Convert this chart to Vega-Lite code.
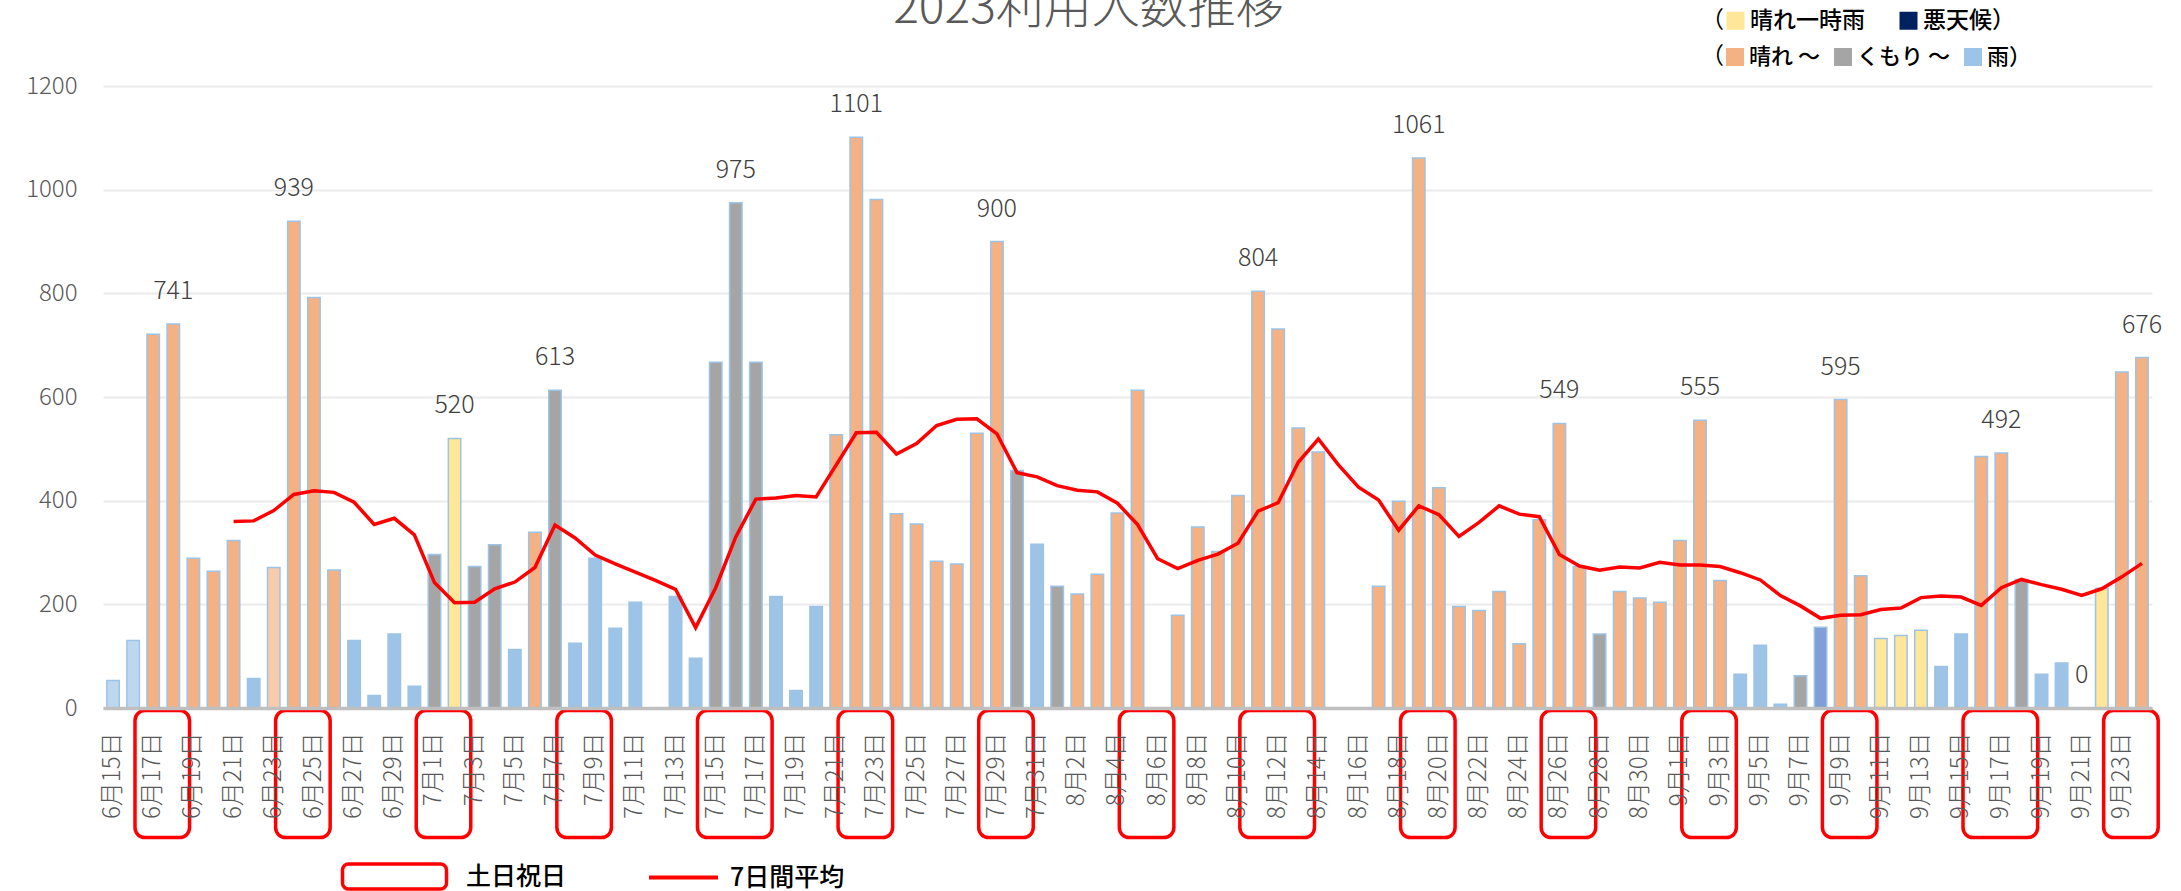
{
  "$schema": "https://vega.github.io/schema/vega-lite/v6.json",
  "autosize": {"type": "none"},
  "width": 2049,
  "height": 622,
  "padding": {"left": 103, "top": 86, "right": 29, "bottom": 183},
  "title": {"text": "2023利用人数推移", "anchor": "middle", "frame": "group", "fontSize": 48, "font": "Noto Sans CJK JP", "fontWeight": 300, "color": "#595959", "baseline": "alphabetic", "offset": -62, "dx": -39},
  "config": {
    "view": {"stroke": null},
    "font": "Noto Sans CJK JP",
    "legend": {"labelFont": "Noto Sans CJK JP", "titleFont": "Noto Sans CJK JP", "labelColor": "#000000", "titleColor": "#000000"}
  },
  "datasets": {
    "daily": [
      {"d":"2023-06-15","v":53,"w":"雨（弱）"},
      {"d":"2023-06-16","v":130,"w":"雨（弱）"},
      {"d":"2023-06-17","v":721,"w":"晴れ"},
      {"d":"2023-06-18","v":741,"w":"晴れ","label":"741"},
      {"d":"2023-06-19","v":289,"w":"晴れ"},
      {"d":"2023-06-20","v":264,"w":"晴れ"},
      {"d":"2023-06-21","v":323,"w":"晴れ","a":360},
      {"d":"2023-06-22","v":57,"w":"雨","a":361},
      {"d":"2023-06-23","v":271,"w":"晴れ（弱）","a":381},
      {"d":"2023-06-24","v":939,"w":"晴れ","a":412,"label":"939"},
      {"d":"2023-06-25","v":792,"w":"晴れ","a":419},
      {"d":"2023-06-26","v":266,"w":"晴れ","a":416},
      {"d":"2023-06-27","v":130,"w":"雨","a":397},
      {"d":"2023-06-28","v":24,"w":"雨","a":354},
      {"d":"2023-06-29","v":143,"w":"雨","a":366},
      {"d":"2023-06-30","v":42,"w":"雨","a":334},
      {"d":"2023-07-01","v":296,"w":"くもり","a":242},
      {"d":"2023-07-02","v":520,"w":"晴れ一時雨","a":203,"label":"520"},
      {"d":"2023-07-03","v":273,"w":"くもり","a":204},
      {"d":"2023-07-04","v":315,"w":"くもり","a":230},
      {"d":"2023-07-05","v":113,"w":"雨","a":243},
      {"d":"2023-07-06","v":339,"w":"晴れ","a":271},
      {"d":"2023-07-07","v":613,"w":"くもり","a":353,"label":"613"},
      {"d":"2023-07-08","v":125,"w":"雨","a":328},
      {"d":"2023-07-09","v":289,"w":"雨","a":295},
      {"d":"2023-07-10","v":154,"w":"雨","a":278},
      {"d":"2023-07-11","v":204,"w":"雨","a":262},
      {"d":"2023-07-12","v":0,"w":"雨","a":246},
      {"d":"2023-07-13","v":215,"w":"雨","a":229},
      {"d":"2023-07-14","v":96,"w":"雨","a":155},
      {"d":"2023-07-15","v":667,"w":"くもり","a":232},
      {"d":"2023-07-16","v":975,"w":"くもり","a":330,"label":"975"},
      {"d":"2023-07-17","v":667,"w":"くもり","a":403},
      {"d":"2023-07-18","v":215,"w":"雨","a":405},
      {"d":"2023-07-19","v":34,"w":"雨","a":410},
      {"d":"2023-07-20","v":196,"w":"雨","a":407},
      {"d":"2023-07-21","v":527,"w":"晴れ","a":469},
      {"d":"2023-07-22","v":1101,"w":"晴れ","a":531,"label":"1101"},
      {"d":"2023-07-23","v":981,"w":"晴れ","a":532},
      {"d":"2023-07-24","v":375,"w":"晴れ","a":490},
      {"d":"2023-07-25","v":355,"w":"晴れ","a":510},
      {"d":"2023-07-26","v":283,"w":"晴れ","a":545},
      {"d":"2023-07-27","v":278,"w":"晴れ","a":557},
      {"d":"2023-07-28","v":530,"w":"晴れ","a":558},
      {"d":"2023-07-29","v":900,"w":"晴れ","a":529,"label":"900"},
      {"d":"2023-07-30","v":458,"w":"くもり","a":454},
      {"d":"2023-07-31","v":316,"w":"雨","a":446},
      {"d":"2023-08-01","v":235,"w":"くもり","a":429},
      {"d":"2023-08-02","v":220,"w":"晴れ","a":420},
      {"d":"2023-08-03","v":258,"w":"晴れ","a":417},
      {"d":"2023-08-04","v":376,"w":"晴れ","a":395},
      {"d":"2023-08-05","v":613,"w":"晴れ","a":354},
      {"d":"2023-08-06","v":0,"w":"晴れ","a":288},
      {"d":"2023-08-07","v":179,"w":"晴れ","a":269},
      {"d":"2023-08-08","v":349,"w":"晴れ","a":285},
      {"d":"2023-08-09","v":302,"w":"晴れ","a":297},
      {"d":"2023-08-10","v":410,"w":"晴れ","a":318},
      {"d":"2023-08-11","v":804,"w":"晴れ","a":380,"label":"804"},
      {"d":"2023-08-12","v":731,"w":"晴れ","a":396},
      {"d":"2023-08-13","v":540,"w":"晴れ","a":474},
      {"d":"2023-08-14","v":494,"w":"晴れ","a":519},
      {"d":"2023-08-15","v":0,"w":"晴れ","a":469},
      {"d":"2023-08-16","v":0,"w":"晴れ","a":426},
      {"d":"2023-08-17","v":235,"w":"晴れ","a":401},
      {"d":"2023-08-18","v":399,"w":"晴れ","a":343},
      {"d":"2023-08-19","v":1061,"w":"晴れ","a":390,"label":"1061"},
      {"d":"2023-08-20","v":425,"w":"晴れ","a":373},
      {"d":"2023-08-21","v":196,"w":"晴れ","a":331},
      {"d":"2023-08-22","v":188,"w":"晴れ","a":358},
      {"d":"2023-08-23","v":225,"w":"晴れ","a":390},
      {"d":"2023-08-24","v":124,"w":"晴れ","a":374},
      {"d":"2023-08-25","v":363,"w":"晴れ","a":369},
      {"d":"2023-08-26","v":549,"w":"晴れ","a":296,"label":"549"},
      {"d":"2023-08-27","v":273,"w":"晴れ","a":274},
      {"d":"2023-08-28","v":143,"w":"くもり","a":266},
      {"d":"2023-08-29","v":225,"w":"晴れ","a":272},
      {"d":"2023-08-30","v":212,"w":"晴れ","a":270},
      {"d":"2023-08-31","v":204,"w":"晴れ","a":281},
      {"d":"2023-09-01","v":323,"w":"晴れ","a":276},
      {"d":"2023-09-02","v":555,"w":"晴れ","a":276,"label":"555"},
      {"d":"2023-09-03","v":246,"w":"晴れ","a":273},
      {"d":"2023-09-04","v":65,"w":"雨","a":261},
      {"d":"2023-09-05","v":121,"w":"雨","a":247},
      {"d":"2023-09-06","v":7,"w":"雨","a":217},
      {"d":"2023-09-07","v":62,"w":"くもり","a":197},
      {"d":"2023-09-08","v":156,"w":"雨（強）","a":173},
      {"d":"2023-09-09","v":595,"w":"晴れ","a":179,"label":"595"},
      {"d":"2023-09-10","v":255,"w":"晴れ","a":180},
      {"d":"2023-09-11","v":134,"w":"晴れ一時雨","a":190},
      {"d":"2023-09-12","v":140,"w":"晴れ一時雨","a":193},
      {"d":"2023-09-13","v":150,"w":"晴れ一時雨","a":213},
      {"d":"2023-09-14","v":80,"w":"雨","a":216},
      {"d":"2023-09-15","v":143,"w":"雨","a":214},
      {"d":"2023-09-16","v":485,"w":"晴れ","a":198},
      {"d":"2023-09-17","v":492,"w":"晴れ","a":232,"label":"492"},
      {"d":"2023-09-18","v":248,"w":"くもり","a":248},
      {"d":"2023-09-19","v":65,"w":"雨","a":238},
      {"d":"2023-09-20","v":87,"w":"雨","a":229},
      {"d":"2023-09-21","v":0,"w":"雨","a":217,"label":"0"},
      {"d":"2023-09-22","v":231,"w":"晴れ一時雨","a":230},
      {"d":"2023-09-23","v":648,"w":"晴れ","a":253},
      {"d":"2023-09-24","v":676,"w":"晴れ","a":279,"label":"676"}
    ],
    "holidays": [
      {"s":"2023-06-17","e":"2023-06-18"},
      {"s":"2023-06-24","e":"2023-06-25"},
      {"s":"2023-07-01","e":"2023-07-02"},
      {"s":"2023-07-08","e":"2023-07-09"},
      {"s":"2023-07-15","e":"2023-07-17"},
      {"s":"2023-07-22","e":"2023-07-23"},
      {"s":"2023-07-29","e":"2023-07-30"},
      {"s":"2023-08-05","e":"2023-08-06"},
      {"s":"2023-08-11","e":"2023-08-13"},
      {"s":"2023-08-19","e":"2023-08-20"},
      {"s":"2023-08-26","e":"2023-08-27"},
      {"s":"2023-09-02","e":"2023-09-03"},
      {"s":"2023-09-09","e":"2023-09-10"},
      {"s":"2023-09-16","e":"2023-09-18"},
      {"s":"2023-09-23","e":"2023-09-24"}
    ]
  },
  "layer": [
    {
      "data": {"name": "daily"},
      "transform": [{"filter": "datum.w == '晴れ一時雨' || datum.w == '悪天候'"}],
      "mark": {"type": "bar", "stroke": "#9DC3E6", "strokeWidth": 1.5},
      "encoding": {
        "x": {"field": "d", "type": "ordinal", "title": null, "scale": {"paddingInner": 0.38, "paddingOuter": 0.19},
          "axis": {"title": null, "values": ["2023-06-15","2023-06-17","2023-06-19","2023-06-21","2023-06-23","2023-06-25","2023-06-27","2023-06-29","2023-07-01","2023-07-03","2023-07-05","2023-07-07","2023-07-09","2023-07-11","2023-07-13","2023-07-15","2023-07-17","2023-07-19","2023-07-21","2023-07-23","2023-07-25","2023-07-27","2023-07-29","2023-07-31","2023-08-02","2023-08-04","2023-08-06","2023-08-08","2023-08-10","2023-08-12","2023-08-14","2023-08-16","2023-08-18","2023-08-20","2023-08-22","2023-08-24","2023-08-26","2023-08-28","2023-08-30","2023-09-01","2023-09-03","2023-09-05","2023-09-07","2023-09-09","2023-09-11","2023-09-13","2023-09-15","2023-09-17","2023-09-19","2023-09-21","2023-09-23"],
            "labelExpr": "utcFormat(toDate(datum.value), '%-m月%-d日')",
            "labelAngle": -90, "labelAlign": "right", "labelBaseline": "middle", "labelPadding": 24,
            "labelFontSize": 24, "labelColor": "#595959", "labelFont": "Noto Sans CJK JP", "labelFontWeight": 300,
            "ticks": false, "grid": false, "domainColor": "#BFBFBF", "domainWidth": 3.5, "labelOverlap": false, "zindex": 1}},
        "y": {"field": "v", "type": "quantitative", "title": null, "scale": {"domain": [0, 1200], "nice": false},
          "axis": {"title": null, "values": [0,200,400,600,800,1000,1200], "format": "d", "grid": true, "gridColor": "#EBEBEB", "gridWidth": 2,
            "domain": false, "ticks": false, "labelFontSize": 24, "labelColor": "#595959", "labelPadding": 26,
            "labelFont": "Noto Sans CJK JP", "labelFontWeight": 300}},
        "color": {"field": "w", "type": "nominal",
          "scale": {"domain": ["晴れ一時雨", "悪天候"], "range": ["#FFE699", "#002060"]},
          "legend": {"orient": "none", "legendX": 1598, "legendY": -77, "direction": "horizontal",
            "title": "（", "titleOrient": "left", "titlePadding": 0, "titleFontSize": 23, "titleFontWeight": "normal",
            "symbolType": "square", "symbolSize": 324, "symbolStrokeWidth": 0, "labelOffset": 3, "columnPadding": 32,
            "labelFontSize": 23, "labelFontWeight": 500,
            "labelExpr": "datum.label == '悪天候' ? '悪天候）' : datum.label"}}
      }
    },
    {
      "data": {"name": "daily"},
      "transform": [{"filter": "datum.w != '晴れ一時雨' && datum.w != '悪天候'"}],
      "mark": {"type": "bar", "stroke": "#9DC3E6", "strokeWidth": 1.5},
      "encoding": {
        "x": {"field": "d", "type": "ordinal", "title": null},
        "y": {"field": "v", "type": "quantitative", "title": null},
        "strokeOpacity": {"condition": {"test": "datum.v == 0", "value": 0}, "value": 1},
        "color": {"field": "w", "type": "nominal",
          "scale": {"domain": ["晴れ", "くもり", "雨", "晴れ（弱）", "雨（弱）", "雨（強）"], "range": ["#F4B183", "#A5A5A5", "#9DC3E6", "#F8CBAD", "#BDD7EE", "#7F9FD6"]},
          "legend": {"orient": "none", "legendX": 1598, "legendY": -40, "direction": "horizontal", "values": ["晴れ", "くもり", "雨"],
            "title": "（", "titleOrient": "left", "titlePadding": 0, "titleFontSize": 23, "titleFontWeight": "normal",
            "symbolType": "square", "symbolSize": 324, "symbolStrokeWidth": 0, "labelOffset": 3, "columnPadding": 12,
            "labelFontSize": 22, "labelFontWeight": 500,
            "labelExpr": "datum.label == '雨' ? '雨）' : datum.label + ' ～'"}}
      }
    },
    {
      "data": {"name": "holidays"},
      "mark": {"type": "rect", "filled": false, "strokeWidth": 3.5, "cornerRadius": 10, "xOffset": -12, "x2Offset": 10},
      "encoding": {
        "x": {"field": "s", "type": "ordinal", "bandPosition": 0, "title": null},
        "x2": {"field": "e", "bandPosition": 1},
        "y": {"datum": -5, "type": "quantitative", "title": null},
        "y2": {"datum": -250},
        "stroke": {"datum": "土日祝日", "type": "nominal", "scale": {"range": ["#FF0000"]},
          "legend": {"orient": "none", "legendX": 277, "legendY": 776, "title": null,
            "symbolType": "M-3.68,-1H3.68A0.48,0.48,0,0,1,4.16,-0.52V0.52A0.48,0.48,0,0,1,3.68,1H-3.68A0.48,0.48,0,0,1,-4.16,0.52V-0.52A0.48,0.48,0,0,1,-3.68,-1Z",
            "symbolSize": 625, "symbolStrokeWidth": 3.5, "symbolStrokeColor": "#FF0000", "symbolFillColor": "transparent",
            "labelOffset": 57, "labelFontSize": 25, "labelFontWeight": 500}}
      }
    },
    {
      "data": {"name": "daily"},
      "transform": [{"filter": "isValid(datum.a)"}],
      "mark": {"type": "line", "strokeWidth": 3.5},
      "encoding": {
        "x": {"field": "d", "type": "ordinal", "title": null},
        "y": {"field": "a", "type": "quantitative", "title": null},
        "stroke": {"datum": "7日間平均", "type": "nominal", "scale": {"range": ["#FF0000"]},
          "legend": {"orient": "none", "legendX": 544, "legendY": 755, "title": null,
            "symbolType": "stroke", "symbolSize": 4761, "symbolStrokeWidth": 4,
            "labelOffset": 10, "labelFontSize": 25, "labelFontWeight": 500}}
      }
    },
    {
      "data": {"name": "daily"},
      "transform": [{"filter": "isValid(datum.label)"}],
      "mark": {"type": "text", "baseline": "middle", "dy": -33, "fontSize": 25, "font": "Noto Sans CJK JP", "fontWeight": 300, "color": "#404040"},
      "encoding": {
        "x": {"field": "d", "type": "ordinal", "title": null},
        "y": {"field": "v", "type": "quantitative", "title": null},
        "text": {"field": "label"}
      }
    }
  ],
  "resolve": {"scale": {"color": "independent", "stroke": "independent"}}
}
